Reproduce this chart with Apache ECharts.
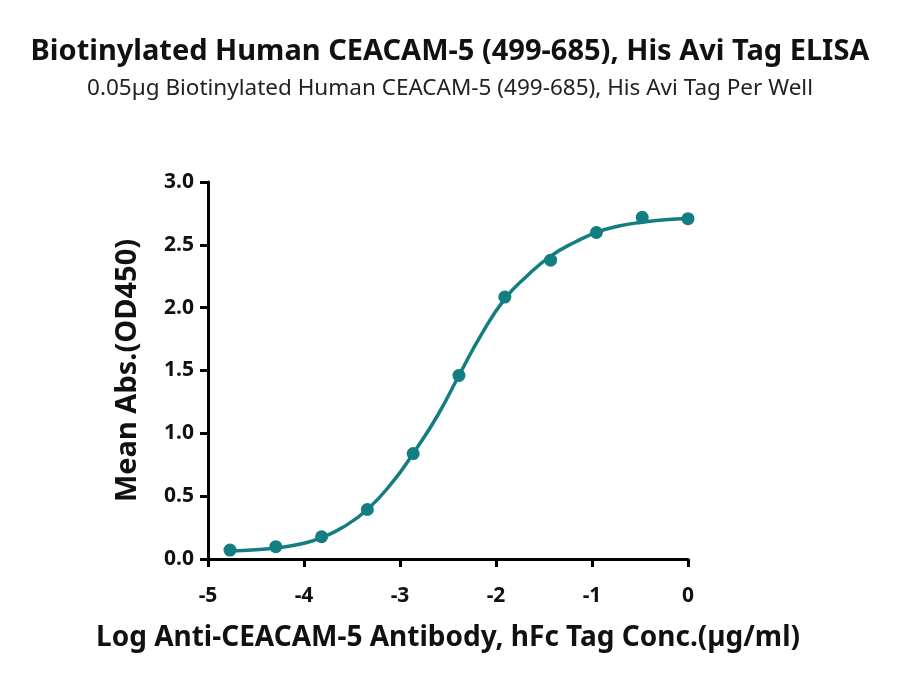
<!DOCTYPE html>
<html>
<head>
<meta charset="utf-8">
<script src="https://cdn.jsdelivr.net/npm/echarts@6/dist/echarts.min.js"></script>
<style>
  html, body { margin: 0; padding: 0; background: #fff; }
  #chart { width: 900px; height: 684px; }
</style>
</head>
<body>
<div id="chart"></div>
<script>
// measured points: log conc (ug/ml) and mean OD450
const logConc = [-4.771, -4.294, -3.817, -3.340, -2.863, -2.386, -1.908, -1.431, -0.954, -0.477, 0];
const meanAbs = [0.071, 0.098, 0.177, 0.394, 0.839, 1.461, 2.084, 2.378, 2.598, 2.719, 2.708];

// fitted curve
const curveX = [-4.771, -4.5, -4.294, -4.0, -3.817, -3.6, -3.340, -3.08, -2.863, -2.61, -2.386, -2.15, -1.908, -1.68, -1.431, -1.18, -0.954, -0.72, -0.477, -0.24, 0];
const curveY = [0.064, 0.074, 0.087, 0.125, 0.17, 0.25, 0.394, 0.61, 0.84, 1.14, 1.46, 1.79, 2.07, 2.25, 2.41, 2.52, 2.60, 2.65, 2.68, 2.70, 2.71];

const xTicks = [-5, -4, -3, -2, -1, 0];

const teal = '#127e81';
const fontFam = '"Noto Sans", "Open Sans", sans-serif';

let myChart = echarts.init(document.getElementById('chart'));
let option = {
  animation: false,
  title: [{
    text: 'Biotinylated Human CEACAM-5 (499-685), His Avi Tag ELISA',
    left: 'center',
    top: 32,
    textStyle: { fontFamily: fontFam, fontWeight: 'bold', fontSize: 29, color: '#111' }
  }, {
    text: '0.05µg Biotinylated Human CEACAM-5 (499-685), His Avi Tag Per Well',
    left: 'center',
    top: 72,
    textStyle: { fontFamily: fontFam, fontWeight: 'normal', fontSize: 22.5, color: '#222' }
  }],
  grid: {
    left: 208,
    right: 212,
    top: 182,
    bottom: 125
  },
  xAxis: {
    type: 'value',
    min: xTicks[0],
    max: xTicks[xTicks.length - 1],
    interval: 1,
    name: 'Log Anti-CEACAM-5 Antibody, hFc Tag Conc.(µg/ml)',
    nameLocation: 'middle',
    nameGap: 65,
    nameTextStyle: { fontFamily: fontFam, fontWeight: 'bold', fontSize: 28, color: '#111' },
    axisLine: { show: true, onZero: false, lineStyle: { color: '#000', width: 3 } },
    axisTick: { show: true, length: 8, lineStyle: { color: '#000', width: 3 } },
    axisLabel: { fontFamily: fontFam, fontWeight: 'bold', fontSize: 21, color: '#111', margin: 27 },
    splitLine: { show: false }
  },
  yAxis: {
    type: 'value',
    min: 0,
    max: 3,
    interval: 0.5,
    name: 'Mean Abs.(OD450)',
    nameLocation: 'middle',
    nameGap: 66,
    nameTextStyle: { fontFamily: fontFam, fontWeight: 'bold', fontSize: 29, color: '#111' },
    axisLine: { show: true, onZero: false, lineStyle: { color: '#000', width: 3 } },
    axisTick: { show: true, length: 8, lineStyle: { color: '#000', width: 3 } },
    axisLabel: {
      fontFamily: fontFam, fontWeight: 'bold', fontSize: 21, color: '#111', margin: 14,
      formatter: function (v) { return v.toFixed(1); }
    },
    splitLine: { show: false }
  },
  series: [{
    name: 'fit',
    type: 'line',
    smooth: true,
    symbol: 'none',
    lineStyle: { color: teal, width: 3.5 },
    data: curveX.map((x, i) => [x, curveY[i]]),
    z: 2
  }, {
    name: 'data',
    type: 'scatter',
    symbol: 'circle',
    symbolSize: 13,
    itemStyle: { color: teal, opacity: 1 },
    data: logConc.map((x, i) => [x, meanAbs[i]]),
    z: 3
  }]
};

myChart.setOption(option);
</script>
</body>
</html>
